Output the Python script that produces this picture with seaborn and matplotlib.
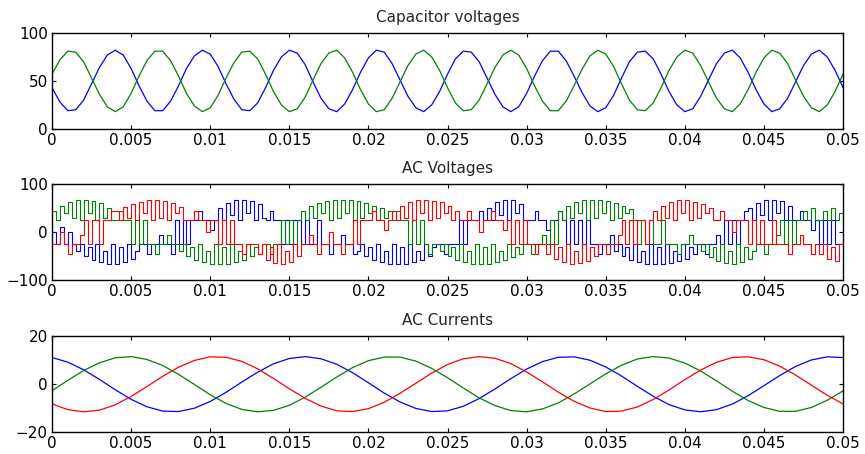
import numpy as np
import pandas as pd
import matplotlib
matplotlib.use("Agg")
from matplotlib import pyplot as plt
import seaborn as sns

# time bases
t_fine = np.round(np.arange(0, 0.05001, 0.0005), 5)    # 101 samples
t_pwm = np.round(np.arange(0, 0.05001, 0.00025), 6)    # 201 samples
t_coarse = np.round(np.arange(0, 0.05001, 0.001), 4)   # 51 samples

# Capacitor voltages
cap_blue = [43, 28, 19, 20, 30, 47, 64, 77, 82, 77,
            63, 45, 29, 19, 19, 29, 45, 63, 76, 82,
            78, 65, 47, 31, 20, 19, 27, 43, 61, 75,
            82, 79, 67, 49, 32, 21, 18, 26, 41, 59,
            74, 82, 80, 68, 51, 34, 22, 18, 25, 39,
            57, 73, 81, 80, 70, 53, 36, 23, 18, 23,
            37, 55, 71, 81, 81, 71, 55, 38, 24, 18,
            22, 35, 53, 70, 80, 81, 73, 57, 39, 25,
            18, 21, 34, 51, 68, 79, 82, 74, 59, 41,
            26, 18, 21, 32, 49, 66, 78, 82, 75, 61, 43]
cap_green = [57, 72, 81, 80, 70, 53, 36, 23, 18, 23,
             37, 55, 71, 81, 81, 71, 55, 37, 24, 18,
             22, 35, 53, 69, 80, 81, 73, 57, 39, 25,
             18, 21, 33, 51, 68, 79, 82, 74, 59, 41,
             26, 18, 20, 32, 49, 66, 78, 82, 75, 61,
             43, 27, 19, 20, 30, 47, 64, 77, 82, 77,
             63, 45, 29, 19, 19, 29, 45, 62, 76, 82,
             78, 65, 47, 30, 20, 19, 27, 43, 61, 75,
             82, 79, 66, 49, 32, 21, 18, 26, 41, 59,
             74, 82, 79, 68, 51, 34, 22, 18, 25, 39, 57]

# AC voltages (switching levels, one value per 0.25 ms)
vac_red = [-25, -25, 0, -25, -45, -25, -25, -5,
           25, -25, 25, 25, -25,
           25, 25, 45,
           45, 25, 52, 30, 58, 25, 63, 40, 66, 25, 66, 30, 64, 25, 60, 40, 52, 25,
           25, 25, 45, 25, 25, 0, 25, 25,
           -25, 25, -25, 25,
           -25, -25, -45, -25, -25, -25,
           -45, -25, -58, -30, -64, -25, -66, -40, -62, -25, -50,
           -25, -25, -5, -25, -45, -25, -25, 0, -25, -25, -45, -25, -25,
           25, -25, 25,
           25, 25, 45, 25, 25, 5, 25,
           45, 25, 55, 30, 62, 25, 66, 40, 67, 25, 65, 30, 62, 40, 55, 25, 45,
           25, 25, 45, 25, 25, 0, 25, 25, 45, 25, 25, 5, 25,
           -25, 25, -25, 25,
           -25, -25, -45, -25, -25,
           -45, -25, -55, -30, -62, -25, -66, -40, -65, -25, -60, -30, -50, -25,
           -25, -45, -25, -25, -5,
           25, -25, 25, -25, 25, 25, -25, 25,
           45, 25, 55, 30, 62, 25, 66, 40, 66, 25, 63, 30, 58, 40, 50, 25,
           25, 45, 25, 25, 0, 25, 25, 25,
           -25, 25, -25, 25, -25, -25, 25, -25,
           -25, -25, -45, -25, -25, -5, -25, -25, -45, -25,
           -45, -25, -55, -30, -60, -25, -40]
vac_blue = [0, -25, 10, -25, 0, -25,
            -40, -25, -50, -30, -58, -25, -63, -40, -66, -25, -66, -30, -62, -25, -55, -40,
            -25, -25, -45, -25, -25, -5, -25, -25, -45,
            25, -25, 25, -25,
            25, 25, 45, 25, 25, 5, 25,
            50, 25, 60, 35, 66, 25, 67, 40, 64, 25, 58, 30,
            25, 45, 25, 25,
            -25, 25, -25, 25, 25, -25, 25, -25, -25, 25,
            -25, -25, -45, -25, -25, -5, -25, -25, -45,
            -40, -25, -50, -30, -58, -25, -63, -40, -66, -25, -67, -30, -66, -25, -63, -40,
            -58, -25, -50, -30,
            -25, -25, -45, -25, -25, -25,
            25, -25, 25,
            25, 25, 45, 25,
            50, 25, 62, 35, 67, 25, 66, 40, 58, 25,
            25, 25, 45, 25, 25, 5, 25, 25, 45, 25,
            -25, 25, -25, 25, -25, 25,
            -25, -25, -45, -25, -25, -5,
            -40, -25, -50, -30, -58, -25, -63, -40, -66, -25, -67, -30, -66, -25, -64, -40,
            -60, -25, -55, -30, -45,
            -25, -25, -45, -25, -25, -5, -25,
            25, -25, 25, -25,
            25, 45,
            50, 25, 60, 35, 66, 25, 67, 40, 64, 25, 55,
            25, 25, 45, 25, 25, 5, 25,
            -25, 25, -25, 25, -25, -25, -15]
vac_green = [45, 25, 55, 40, 62, 30, 66, 25, 67, 40, 64, 25, 60, 30, 50,
             25, 25, 45, 25, 25,
             -25, 25, -25, 25,
             -25, -25, -45, -25, -25, -5, -25, -25,
             -40, -25, -50, -30, -58, -25, -63, -40, -66, -25, -67, -30, -66, -25, -63, -40,
             -58, -25, -50, -30, -45,
             -25, -25, -45, -25, -25,
             25, -25, 25, -25, 25,
             45, 25, 55, 30, 60, 40, 64, 25, 66, 30, 67, 40, 66, 25, 64, 30, 60, 40,
             55, 25, 50, 30, 45,
             25, 45, 25, 25,
             -25, 25, -25, 25,
             -25, -45, -25, -25,
             -40, -25, -50, -30, -58, -25, -63, -40, -66, -25, -67, -30, -66, -25, -63, -40,
             -58, -25, -52, -30, -45, -25,
             -25, -45, -25, -25, -5, -25,
             25, -25,
             45, 25, 55, 30, 62, 40, 66, 25, 67, 30, 66, 40, 64, 25, 60, 30, 55, 40, 48, 25,
             -25, 25, -25, 25, -25, -25, 25, -25,
             -25, -25, -45, -25, -25, -5, -25, -25,
             -40, -25, -52, -30, -60, -25, -65, -40, -66, -25, -62, -30, -55, -40,
             -25, -25, -45, -25, -25, -5,
             25, -25, 25, -25,
             25, 25, 45, 25, 50, 25, 25, 45, 25, 50, 25, 40, 25]

# AC currents (one value per 1 ms)
iac_red = [-8.2, -10.6, -11.5, -10.8, -8.6, -5.1, -1.0, 3.3, 7.1, 9.9,
           11.4, 11.2, 9.5, 6.4, 2.4, -1.9, -5.9, -9.1, -11.1, -11.4,
           -10.2, -7.5, -3.8, 0.4, 4.6, 8.2, 10.6, 11.5, 10.8, 8.6,
           5.1, 1.0, -3.3, -7.1, -9.9, -11.4, -11.2, -9.5, -6.4, -2.4,
           1.9, 5.9, 9.1, 11.1, 11.4, 10.2, 7.5, 3.8, -0.4, -4.6, -8.2]
iac_green = [-2.7, 1.6, 5.7, 8.9, 11.0, 11.5, 10.3, 7.8, 4.1, -0.1,
             -4.4, -8.0, -10.5, -11.5, -10.9, -8.8, -5.4, -1.3, 3.0, 6.9,
             9.8, 11.3, 11.3, 9.6, 6.6, 2.7, -1.6, -5.7, -8.9, -11.0,
             -11.5, -10.3, -7.8, -4.1, 0.1, 4.3, 7.9, 10.5, 11.5, 10.9,
             8.8, 5.5, 1.4, -2.9, -6.8, -9.7, -11.3, -11.3, -9.7, -6.7, -2.8]
iac_blue = [11.1, 9.2, 6.0, 2.0, -2.3, -6.3, -9.4, -11.2, -11.4, -10.0,
            -7.2, -3.4, 0.9, 5.0, 8.5, 10.7, 11.5, 10.6, 8.3, 4.8,
            0.6, -3.7, -7.4, -10.1, -11.4, -11.1, -9.2, -6.0, -2.0, 2.3,
            6.3, 9.4, 11.2, 11.4, 10.0, 7.2, 3.4, -0.9, -5.0, -8.5,
            -10.7, -11.5, -10.6, -8.3, -4.8, -0.6, 3.6, 7.4, 10.1, 11.4, 11.1]

x_ticks = [0, 0.005, 0.01, 0.015, 0.02, 0.025, 0.03, 0.035, 0.04, 0.045, 0.05]
x_labels = ["0", "0.005", "0.01", "0.015", "0.02", "0.025", "0.03",
            "0.035", "0.04", "0.045", "0.05"]

BLUE = "#0000ff"
GREEN = "#008000"
RED = "#ff0000"

sns.set_theme(style="white")
plt.rcParams["font.family"] = ["DejaVu Sans"]

fig = plt.figure(figsize=(8.65, 4.54), dpi=100)
ax1 = fig.add_axes([0.0601, 0.716, 0.9145, 0.2115])
ax2 = fig.add_axes([0.0601, 0.383, 0.9145, 0.2115])
ax3 = fig.add_axes([0.0601, 0.048, 0.9145, 0.2115])

# capacitor voltages
sns.lineplot(x=t_fine, y=cap_blue, ax=ax1, color=BLUE, lw=0.9)
sns.lineplot(x=t_fine, y=cap_green, ax=ax1, color=GREEN, lw=0.9)

# AC voltages
sns.lineplot(x=t_pwm, y=vac_blue, ax=ax2, color=BLUE, lw=0.8, drawstyle="steps-post")
sns.lineplot(x=t_pwm, y=vac_green, ax=ax2, color=GREEN, lw=0.8, drawstyle="steps-post")
sns.lineplot(x=t_pwm, y=vac_red, ax=ax2, color=RED, lw=0.8, drawstyle="steps-post")

# AC currents
sns.lineplot(x=t_coarse, y=iac_blue, ax=ax3, color=BLUE, lw=0.9)
sns.lineplot(x=t_coarse, y=iac_green, ax=ax3, color=GREEN, lw=0.9)
sns.lineplot(x=t_coarse, y=iac_red, ax=ax3, color=RED, lw=0.9)

titles = ["Capacitor voltages", "AC Voltages", "AC Currents"]
ylims = [(0, 100), (-100, 100), (-20, 20)]
yticks = [[0, 50, 100], [-100, 0, 100], [-20, 0, 20]]

for ax, title, yl, yt in zip([ax1, ax2, ax3], titles, ylims, yticks):
    ax.set_xlim(0, 0.05)
    ax.set_ylim(*yl)
    ax.set_yticks(yt)
    ax.set_xticks(x_ticks)
    ax.set_xticklabels(x_labels)
    ax.set_title(title, fontsize=11, pad=8)
    ax.tick_params(direction="in", length=3, width=0.8, labelsize=11,
                   top=True, right=True, bottom=True, left=True, pad=3, colors="black")
    for s in ax.spines.values():
        s.set_color("black")
        s.set_linewidth(1.0)
    ax.set_xlabel("")
    ax.set_ylabel("")

fig.savefig("out.png", dpi=100)
